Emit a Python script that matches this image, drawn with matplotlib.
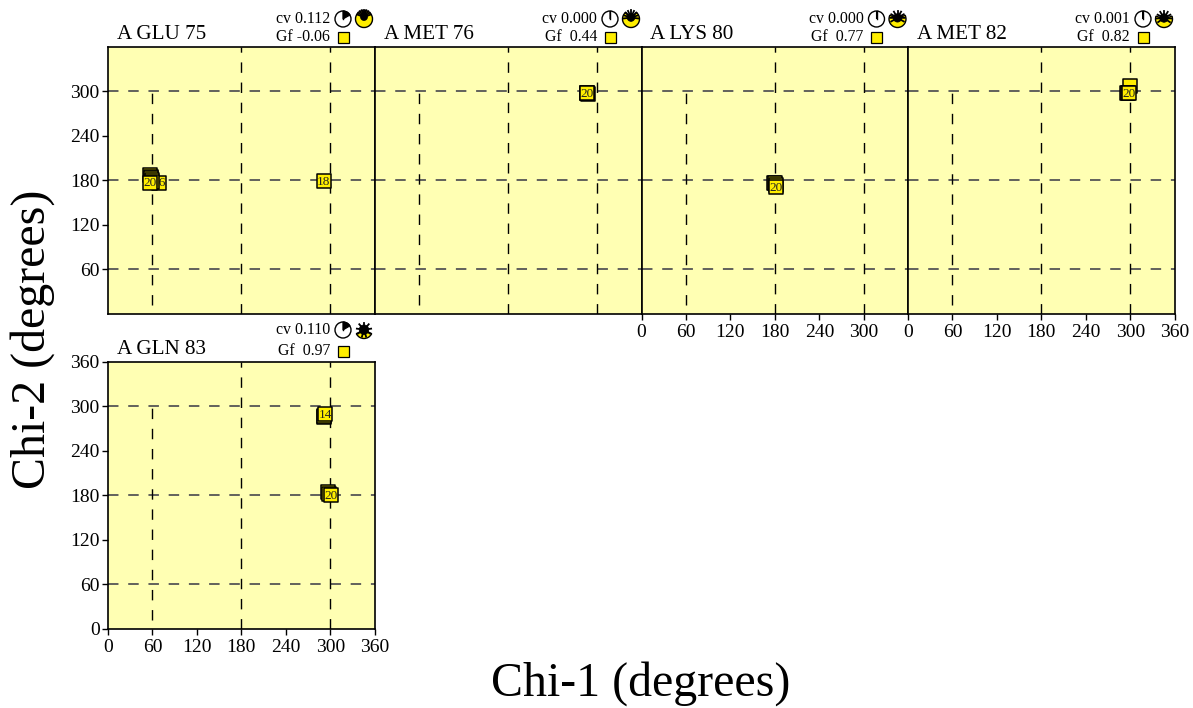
import numpy as np
import matplotlib
matplotlib.use('Agg')
import matplotlib.pyplot as plt
from matplotlib.patches import Circle, Wedge, Rectangle

plt.rcParams['font.family'] = ['Liberation Serif', 'DejaVu Serif']

W, H = 1193, 708

titles = ['A GLU 75', 'A MET 76', 'A LYS 80', 'A MET 82', 'A GLN 83']
cv_vals = [0.112, 0.000, 0.000, 0.001, 0.110]
gf_vals = ['-0.06', ' 0.44', ' 0.77', ' 0.82', ' 0.97']
# yellow share of the second quality glyph, 0..1
helmet_vals = [1.0, 0.75, 0.55, 0.5, 0.15]

chi1_pts = [
    [57, 58, 58, 59, 69, 60, 57, 291],
    [288, 286, 286, 286],
    [179, 180, 181, 182],
    [300, 296, 297, 298.5],
    [291, 292, 293, 297, 298, 300.5],
]
chi2_pts = [
    [187, 185, 183, 180, 177, 178, 177, 179],
    [297, 298, 298, 298],
    [177, 176, 174, 171],
    [307, 298, 298, 298],
    [286, 287, 290, 184, 182, 180],
]
pt_labels = [
    {4: '16', 6: '20', 7: '18'},
    {3: '20'},
    {3: '20'},
    {3: '20'},
    {2: '14', 5: '20'},
]

ticks = [0, 60, 120, 180, 240, 300, 360]
grid_vals = [60, 180, 300]

PW = 266.8
panel_left = [108, 375, 641.5, 908, 108]
panel_top = [47, 47, 47, 47, 362]
YELLOW = '#ffffb3'
MARK = '#ffee00'


def make_panel(fig, i):
    left, top = panel_left[i], panel_top[i]
    ax = fig.add_axes([left / W, 1 - (top + PW) / H, PW / W, PW / H])
    ax.set_facecolor(YELLOW)
    ax.set_xlim(0, 360)
    ax.set_ylim(0, 360)
    dash = (0, (7.5, 7.0))
    for v in grid_vals:
        ax.axhline(v, color='#555555', lw=1.3, ls=(0, (5.8, 5.4)), zorder=1)
    ax.plot([60, 60], [12, 298], color='black', lw=1.0, ls=dash, zorder=1)
    for v in grid_vals[1:]:
        ax.plot([v, v], [0, 360], color='black', lw=1.0, ls=dash, zorder=1)

    # one scatter per point so a later box hides the label of an earlier one
    xs, ys = chi1_pts[i], chi2_pts[i]
    for k in range(len(xs)):
        ax.scatter(xs[k], ys[k], s=105, marker='s', facecolor=MARK, edgecolor='black',
                   linewidth=1.1, zorder=3 + k)
        if k in pt_labels[i]:
            ax.text(xs[k], ys[k] - 1, pt_labels[i][k], fontsize=9.5, ha='center',
                    va='center', color='#222222', zorder=3 + k)

    if i == 0:
        ax.set_yticks(ticks[1:-1])
    elif i == 4:
        ax.set_yticks(ticks)
    else:
        ax.set_yticks([])
    if i == 2:
        # the last label would run into the 0 of the next panel
        ax.set_xticks(ticks[:-1])
    elif i in (3, 4):
        ax.set_xticks(ticks)
    else:
        ax.set_xticks([])
    ax.tick_params(length=4.5, width=1.0, labelsize=14, pad=1.5)
    ax.tick_params(axis='x', pad=3)
    for s in ax.spines.values():
        s.set_linewidth(1.2)
    return ax


def draw_header(over, i):
    left, top = panel_left[i], panel_top[i]
    low = i == 4
    y_cv = top - (32 if low else 28)
    y_gf = top - (11 if low else 10)
    over.text(left + 9, top - 12.5, titles[i], fontsize=15.2, ha='left', va='center')
    over.text(left + 222, y_cv, 'cv %.3f' % cv_vals[i], fontsize=11.4,
              ha='right', va='center')
    over.text(left + 222, y_gf, 'Gf %s' % gf_vals[i], fontsize=11.4,
              ha='right', va='center')

    cx, hx = left + 235, left + 256
    # cv clock: wedge runs clockwise from 12 o'clock
    # y axis is flipped here, so the angles run the other way
    over.add_patch(Circle((cx, y_cv), 8, fc='white', ec='black', lw=1.0))
    sweep = cv_vals[i] * 360 * 1.5
    over.add_patch(Wedge((cx, y_cv), 8, -90, -90 + sweep, fc='black', ec='black', lw=0.8))
    over.plot([cx, cx], [y_cv - 8, y_cv], color='black', lw=1.0)
    over.add_patch(Rectangle((cx - 5.5, y_gf - 5.5), 11, 11, fc=MARK, ec='black', lw=0.9))

    # second glyph: yellow bowl with a black spiky cap
    frac = helmet_vals[i]
    r = 8.5
    span = 45 + 130 * frac
    over.add_patch(Wedge((hx, y_cv), r, 90 - span, 90 + span, fc=MARK, ec='black', lw=1.0))
    by = y_cv - 2.0 * frac
    over.add_patch(Circle((hx, by), 3.5 + 1.5 * (1 - frac), fc='black', ec='black', lw=0.5))
    reach = 70 + 110 * (1 - frac)
    for ang in np.radians(np.linspace(270 - reach, 270 + reach, 9)):
        over.plot([hx, hx + 7.2 * np.cos(ang)], [by, by + 7.2 * np.sin(ang)],
                  color='black', lw=1.3)


fig = plt.figure(figsize=(W / 100, H / 100), dpi=100)
for n in range(len(titles)):
    make_panel(fig, n)

over = fig.add_axes([0, 0, 1, 1])
over.set_xlim(0, W)
over.set_ylim(H, 0)
over.axis('off')
over.patch.set_alpha(0)
for n in range(len(titles)):
    draw_header(over, n)

over.text(641, 684, 'Chi-1 (degrees)', fontsize=34.5, ha='center', va='center')
over.text(33, 339, 'Chi-2 (degrees)', fontsize=34.5, rotation=90, ha='center', va='center')

fig.savefig('out.png', dpi=100)
